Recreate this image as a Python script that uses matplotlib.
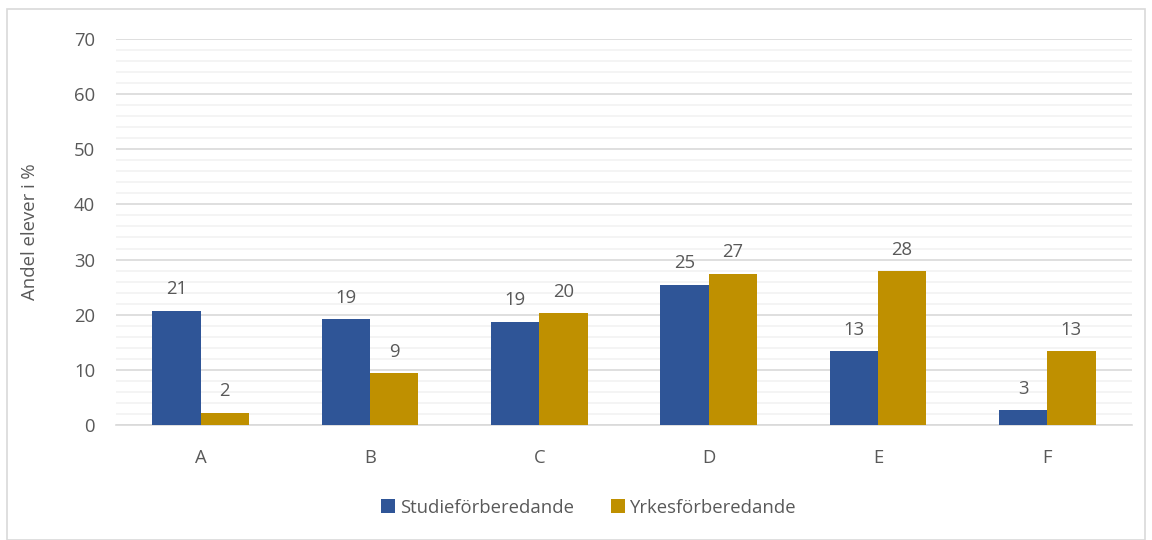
import matplotlib.pyplot as plt
import numpy as np
from matplotlib.patches import Rectangle

categories = ['A', 'B', 'C', 'D', 'E', 'F']
studie = [20.7, 19.2, 18.7, 25.4, 13.4, 2.7]
yrkes = [2.2, 9.4, 20.3, 27.4, 27.9, 13.4]
series_names = ['Studieförberedande', 'Yrkesförberedande']

blue = '#2F5597'
gold = '#BF9000'
txt = '#595959'

plt.rcParams['font.family'] = ['Open Sans', 'DejaVu Sans']
fs = 13.3

fig = plt.figure(figsize=(11.52, 5.4), dpi=100)
ax = fig.add_axes([0.1007, 0.213, 0.8819, 0.7148])

# outer chart frame
fig.patches.append(Rectangle((0.006, 0.0), 0.988, 0.983, transform=fig.transFigure,
                             fill=False, edgecolor='#D9D9D9', linewidth=1.2))

x = np.arange(len(categories))
w = 0.285
b1 = ax.bar(x - w / 2, studie, w, color=blue, label=series_names[0], zorder=3)
b2 = ax.bar(x + w / 2, yrkes, w, color=gold, label=series_names[1], zorder=3)

for bars, vals in [(b1, studie), (b2, yrkes)]:
    for bar, v in zip(bars, vals):
        ax.annotate(f'{round(v):d}', (bar.get_x() + bar.get_width() / 2, v),
                    xytext=(0, 9), textcoords='offset points',
                    ha='center', va='bottom', fontsize=fs, color=txt)

ax.set_xlim(-0.5, 5.5)
ax.set_ylim(0, 70)
ax.set_yticks(range(0, 71, 10))
ax.set_yticks(range(0, 71, 2), minor=True)
ax.grid(axis='y', which='major', color='#D9D9D9', linewidth=1.2, zorder=0)
ax.grid(axis='y', which='minor', color='#F2F2F2', linewidth=1.2, zorder=0)
ax.set_xticks(x)
ax.set_xticklabels(categories)
ax.tick_params(axis='both', which='both', length=0, labelsize=fs, labelcolor=txt)
ax.tick_params(axis='x', pad=17)
ax.tick_params(axis='y', pad=15)
for s in ['top', 'right', 'left']:
    ax.spines[s].set_visible(False)
ax.spines['bottom'].set_color('#D9D9D9')
ax.spines['bottom'].set_linewidth(1.2)

ax.set_ylabel('Andel elever i %', fontsize=fs, color=txt, labelpad=25)

fig.legend(handles=[b1, b2], loc='center', bbox_to_anchor=(0.511, 0.06), ncol=2,
           frameon=False, fontsize=fs, labelcolor=txt, handlelength=0.75,
           handleheight=0.75, handletextpad=0.25, columnspacing=2.0)

fig.savefig('out.png', dpi=100)
